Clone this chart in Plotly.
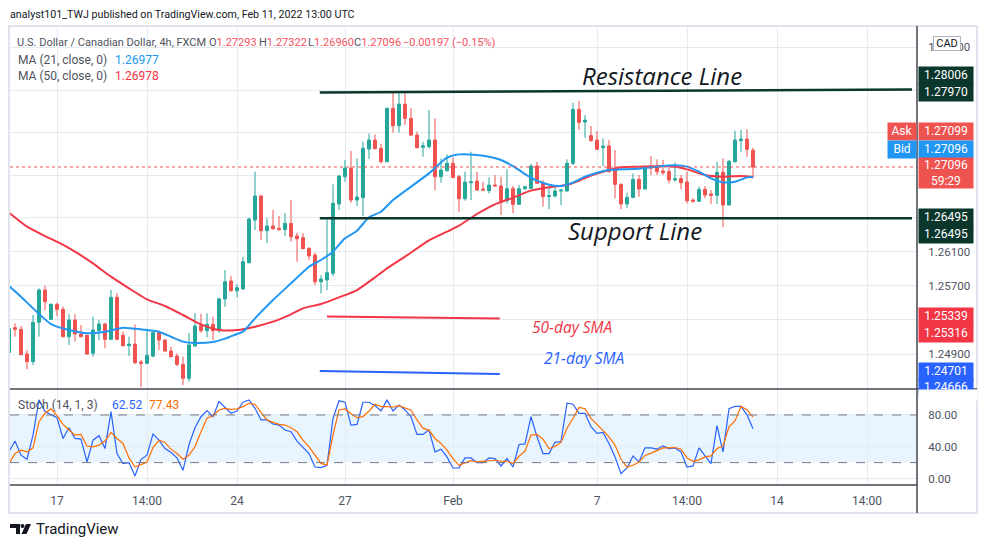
import plotly.graph_objects as go

# ---------------- data ----------------
candle_idx = list(range(-1, 124))
opens = [1.24916,1.25209,1.25190,1.24900,1.24810,1.25272,1.25651,1.25307,1.25483,1.25424,
 1.25103,1.25299,1.25135,1.25119,1.24908,1.25174,1.25252,1.25072,1.25565,1.25119,
 1.24998,1.25017,1.24806,1.24790,1.24876,1.25150,1.25064,1.24935,1.24876,1.24778,
 1.24614,1.24994,1.25232,1.25174,1.25248,1.25174,1.25546,1.25757,1.25643,1.25663,
 1.25972,1.26473,1.26755,1.26348,1.26403,1.26375,1.26360,1.26434,1.26285,1.26266,
 1.26141,1.26062,1.25749,1.25769,1.25847,1.26661,1.26982,1.27084,1.26708,1.26736,
 1.27307,1.27413,1.27315,1.27158,1.27785,1.27581,1.27835,1.27667,1.27471,1.27327,
 1.27334,1.27413,1.26982,1.27053,1.27139,1.26982,1.26724,1.26912,1.26931,1.26837,
 1.26818,1.26884,1.26873,1.26700,1.26841,1.26657,1.26841,1.26845,1.27107,1.26912,
 1.26747,1.26755,1.26814,1.26814,1.27139,1.27773,1.27624,1.27464,1.27413,1.27323,
 1.27342,1.27060,1.26892,1.26661,1.26739,1.26951,1.26837,1.27100,1.27092,1.27049,
 1.27041,1.26943,1.26959,1.26920,1.26708,1.26693,1.26833,1.26779,1.26763,1.27033,
 1.26650,1.27158,1.27405,1.27424,1.27293]
highs = [1.25221,1.25260,1.25229,1.24947,1.25358,1.25671,1.25702,1.25495,1.25503,1.25456,
 1.25366,1.25366,1.25240,1.25127,1.25338,1.25299,1.25268,1.25651,1.25612,1.25162,
 1.25103,1.25248,1.24829,1.25197,1.25162,1.25174,1.25072,1.24986,1.24908,1.24869,
 1.25150,1.25378,1.25370,1.25378,1.25338,1.25565,1.25886,1.25816,1.25722,1.26043,
 1.26501,1.27041,1.26767,1.26493,1.26591,1.26520,1.26552,1.26708,1.26325,1.26317,
 1.26152,1.26090,1.25828,1.26481,1.26892,1.27002,1.27178,1.27284,1.27197,1.27393,
 1.27491,1.27479,1.27366,1.27792,1.27980,1.27961,1.27961,1.27785,1.27511,1.27393,
 1.27765,1.27667,1.27197,1.27244,1.27209,1.27002,1.27041,1.27276,1.27041,1.26923,
 1.26974,1.27002,1.26982,1.27068,1.26873,1.26884,1.26873,1.27131,1.27158,1.26943,
 1.26865,1.26873,1.26833,1.27186,1.27851,1.27875,1.27706,1.27577,1.27518,1.27432,
 1.27413,1.27295,1.26904,1.26794,1.27021,1.27002,1.27107,1.27225,1.27186,1.27178,
 1.27107,1.27150,1.27002,1.27041,1.26728,1.26865,1.26873,1.26825,1.27158,1.27197,
 1.27178,1.27522,1.27530,1.27538,1.27322]
lows = [1.24908,1.25103,1.24884,1.24720,1.24771,1.25103,1.25417,1.25299,1.25346,1.25096,
 1.25006,1.25045,1.25096,1.24888,1.24869,1.25064,1.24966,1.25064,1.25064,1.24986,
 1.24876,1.24782,1.24509,1.24782,1.24861,1.24947,1.24927,1.24861,1.24759,1.24536,
 1.24575,1.24986,1.25150,1.25096,1.25064,1.25150,1.25456,1.25632,1.25565,1.25655,
 1.25964,1.26356,1.26238,1.26199,1.26356,1.26348,1.26286,1.26219,1.25984,1.26129,
 1.26004,1.25710,1.25612,1.25651,1.25816,1.26591,1.26923,1.26677,1.26638,1.26520,
 1.27190,1.27303,1.27139,1.27150,1.27499,1.27499,1.27589,1.27460,1.27315,1.27217,
 1.27315,1.26825,1.26912,1.27041,1.26963,1.26571,1.26700,1.26708,1.26818,1.26818,
 1.26786,1.26870,1.26532,1.26669,1.26552,1.26650,1.26825,1.26833,1.26896,1.26630,
 1.26599,1.26739,1.26646,1.26806,1.27119,1.27530,1.27440,1.27393,1.27295,1.27107,
 1.27029,1.26728,1.26599,1.26610,1.26728,1.26747,1.26833,1.27002,1.27002,1.27002,
 1.26904,1.26923,1.26833,1.26669,1.26677,1.26689,1.26728,1.26661,1.26661,1.26387,
 1.26646,1.27147,1.27276,1.27217,1.26960]
closes = [1.25201,1.25190,1.24892,1.24810,1.25272,1.25651,1.25514,1.25483,1.25424,1.25103,
 1.25299,1.25135,1.25103,1.24900,1.25182,1.25252,1.25072,1.25565,1.25072,1.24998,
 1.25017,1.24798,1.24790,1.24884,1.25150,1.25064,1.24935,1.24869,1.24778,1.24614,
 1.25006,1.25229,1.25174,1.25248,1.25174,1.25546,1.25749,1.25643,1.25679,1.25984,
 1.26485,1.26755,1.26348,1.26403,1.26372,1.26360,1.26434,1.26277,1.26254,1.26137,
 1.26051,1.25749,1.25780,1.25855,1.26669,1.26990,1.27084,1.26708,1.26743,1.27315,
 1.27413,1.27311,1.27158,1.27785,1.27581,1.27835,1.27667,1.27471,1.27323,1.27346,
 1.27413,1.26982,1.27060,1.27139,1.26974,1.26724,1.26919,1.26923,1.26825,1.26825,
 1.26884,1.26873,1.26700,1.26841,1.26657,1.26841,1.26865,1.27107,1.26904,1.26747,
 1.26759,1.26814,1.26825,1.27139,1.27773,1.27620,1.27647,1.27405,1.27303,1.27342,
 1.27041,1.26892,1.26661,1.26739,1.26951,1.26837,1.27080,1.27084,1.27041,1.27029,
 1.26943,1.26959,1.26912,1.26700,1.26693,1.26833,1.26767,1.26763,1.27033,1.26650,
 1.27162,1.27413,1.27424,1.27303,1.27096]

ma21_idx = [-1,1,3,6,9,12,15,18,20,22,24,26,28,30,33,35,37,38,40,43,46,49,51,53,55,57,59,61,63,66,
            69,72,74,77,79,81,83,85,87,89,91,93,95,97,99,101,104,107,110,112,114,116,118,120,122,123]
ma21_val = [1.25699,1.25573,1.25436,1.25252,1.25182,1.25143,1.25162,1.25209,1.25197,1.25182,
            1.25162,1.25103,1.25045,1.25029,1.25041,1.25080,1.25135,1.25162,1.25319,1.25534,
            1.25730,1.25925,1.26004,1.26102,1.26258,1.26348,1.26505,1.26571,1.26708,1.26865,
            1.27021,1.27205,1.27244,1.27237,1.27217,1.27178,1.27107,1.27013,1.26935,1.26888,
            1.26873,1.26912,1.26982,1.27029,1.27060,1.27068,1.27076,1.27100,1.27115,1.27100,
            1.27041,1.26962,1.26916,1.26923,1.26974,1.26977]
ma50_idx = [-1,2,5,7,10,13,16,19,22,25,28,31,34,37,40,43,46,48,51,54,57,60,62,65,69,72,74,77,80,83,
            86,89,92,94,96,98,101,104,109,112,115,118,121,123]
ma50_val = [1.26559,1.26395,1.26285,1.26219,1.26102,1.25964,1.25808,1.25671,1.25542,1.25464,
            1.25358,1.25248,1.25182,1.25182,1.25221,1.25280,1.25366,1.25436,1.25487,1.25565,
            1.25651,1.25800,1.25906,1.26043,1.26235,1.26336,1.26407,1.26544,1.26657,1.26736,
            1.26818,1.26857,1.26884,1.26935,1.26994,1.27041,1.27092,1.27100,1.27107,1.27068,
            1.27002,1.26982,1.26990,1.26978]

stoch_k = [33.8,47.3,29.3,24.2,54.6,99,84.2,80,76.6,50.4,63.9,50.4,49.6,20.8,48.3,53.8,37.7,84.2,31.4,18.7,
 20,3.1,24.2,29.3,55.9,48.3,37.7,32.7,25.9,10.3,42.8,63.9,77.8,85.5,77.8,96.9,89.3,82.1,85,96,
 99,88.4,73.7,73.7,68.6,67.3,61,58.9,47.1,39.9,31.4,14.5,13.8,16.6,75.8,97.8,96,67.3,68.2,96,
 96,91.8,85,99,85,92.6,86.3,77.8,55.5,55.5,61,33.5,36.9,27.2,13.2,13.2,25.9,25.9,20,20,
 25.9,25.1,15.8,25.1,14.5,42.8,43.6,77.8,52.5,31.4,31.4,45.6,46.5,94.8,93.5,82.1,82.1,65.2,56.8,58.1,
 44.1,27.2,6.1,13.2,28.4,20.8,38.6,38.6,36.9,41.1,37.7,38.6,33.5,14.5,15.8,38.6,28.4,18.7,66.5,33.5,
 87.9,90.8,90.8,80.2,62.52]
stoch_d = [18.7,31.4,35.6,33.5,38.6,71.5,82.1,87.6,79.1,68.2,61,54.6,55.5,40.7,39.9,42,47.1,58,50.4,44.1,
 25.9,14.5,17.5,20.8,39,48.3,45.4,37,31.4,24.2,29.3,39.9,58.9,75.8,79.1,86.3,88.4,87.1,87.6,90.5,
 94.7,93.5,83.3,73.7,70.7,68.2,67.3,64,58.9,48.3,39.9,29.3,19,17,54.6,86.3,87.6,81.6,76.6,77.8,
 85,93.5,90.5,90.5,89.7,91.8,88.4,85.9,73.7,63.4,60.6,50.4,44.1,35.6,25.1,16.6,19.6,22.5,20.8,21.7,
 21.7,23,21.7,21.7,18.7,28,34.4,54.6,55.5,49.6,37.7,40.2,45.4,63.4,75.8,89.6,87.9,75.8,68.2,61,
 52.5,42,24.2,14.5,16.6,20.8,29,32,35.6,38.6,38.6,39,36.9,25.9,21.7,23.4,27.2,28.4,37.7,40.7,
 65.2,72.4,90.8,86.6,77.43]

tick_idx = [7, 22, 37, 55, 73, 97, 112, 127, 142]
tick_text = ["17", "14:00", "24", "27", "Feb", "7", "14:00", "14", "14:00"]
price_ticks = [1.245, 1.249, 1.253, 1.257, 1.261, 1.265, 1.270, 1.275, 1.280, 1.285]
price_tick_text = ["", "1.24900", "", "1.25700", "1.26100", "", "", "", "", "1.28500"]
stoch_ticks = [0, 40, 80]
stoch_tick_text = ["0.00", "40.00", "80.00"]

resistance_idx = [50.8, 149.5]
resistance_price = [1.27970, 1.28006]
support_idx = [50.8, 149.5]
support_price = [1.26495, 1.26495]
sma50_mark_idx = [52.0, 80.8]
sma50_mark_price = [1.25339, 1.25316]
sma21_mark_idx = [50.8, 80.8]
sma21_mark_price = [1.24701, 1.24666]
last_price = 1.27096

# ---------------- geometry helpers (page pixel coords) ----------------
OFF = 8                      # default page body margin
W, H = 987 - OFF, 548 - OFF  # figure size
PL, PR, PT, PB = 10, 917, 27, 485
SEP = 389
def px(x):
    return (x - PL) / (PR - PL)
def py(y):
    return (PB - y) / (PB - PT)

FONT = "Roboto, 'Liberation Sans', sans-serif"
UP, DN = "#26a69a", "#ef5350"
DARK = "#0b362c"
GRID = "#e4ebf1"

fig = go.Figure()
fig.add_trace(go.Candlestick(
    x=candle_idx, open=opens, high=highs, low=lows, close=closes,
    increasing=dict(line=dict(color=UP, width=1), fillcolor=UP),
    decreasing=dict(line=dict(color=DN, width=1), fillcolor=DN),
    xaxis="x", yaxis="y", hoverinfo="skip"))
fig.add_trace(go.Scatter(x=ma50_idx, y=ma50_val, mode="lines",
    line=dict(color="#f23645", width=2, shape="spline", smoothing=0.6), xaxis="x", yaxis="y"))
fig.add_trace(go.Scatter(x=ma21_idx, y=ma21_val, mode="lines",
    line=dict(color="#2196f3", width=2, shape="spline", smoothing=0.6), xaxis="x", yaxis="y"))
fig.add_trace(go.Scatter(x=resistance_idx, y=resistance_price, mode="lines",
    line=dict(color=DARK, width=2.5), xaxis="x", yaxis="y"))
fig.add_trace(go.Scatter(x=support_idx, y=support_price, mode="lines",
    line=dict(color=DARK, width=2.5), xaxis="x", yaxis="y"))
fig.add_trace(go.Scatter(x=sma50_mark_idx, y=sma50_mark_price, mode="lines",
    line=dict(color="#f23645", width=2), xaxis="x", yaxis="y"))
fig.add_trace(go.Scatter(x=sma21_mark_idx, y=sma21_mark_price, mode="lines",
    line=dict(color="#2962ff", width=2), xaxis="x", yaxis="y"))
fig.add_trace(go.Scatter(x=candle_idx, y=stoch_k, mode="lines",
    line=dict(color="#2962ff", width=1.2), xaxis="x2", yaxis="y2"))
fig.add_trace(go.Scatter(x=candle_idx, y=stoch_d, mode="lines",
    line=dict(color="#ff6d00", width=1.2), xaxis="x2", yaxis="y2"))

split = (PB - SEP) / (PB - PT)
xr = [(PL - 15) / 6, (PR - 15) / 6]

shapes = []
shapes.append(dict(type="rect", xref="paper", yref="y2", x0=0, x1=1, y0=20, y1=80,
                   fillcolor="rgba(33,150,243,0.1)", line=dict(width=0), layer="below"))
for lv in (20, 80):
    shapes.append(dict(type="line", xref="paper", yref="y2", x0=0, x1=1, y0=lv, y1=lv,
                       line=dict(color="#787b86", width=1, dash="dash")))
shapes.append(dict(type="line", xref="paper", yref="y", x0=0, x1=1, y0=last_price, y1=last_price,
                   line=dict(color="#ef5350", width=1, dash="dot")))
shapes.append(dict(type="rect", xref="paper", yref="paper", x0=px(9), x1=px(977), y0=py(26), y1=py(513),
                   line=dict(color="#e0e3eb", width=2)))
SEPC = "#434651"
shapes.append(dict(type="line", xref="paper", yref="paper", x0=px(10), x1=px(977), y0=py(SEP), y1=py(SEP),
                   line=dict(color=SEPC, width=1.5)))
shapes.append(dict(type="line", xref="paper", yref="paper", x0=px(10), x1=px(917), y0=py(485), y1=py(485),
                   line=dict(color=SEPC, width=1.5)))
shapes.append(dict(type="line", xref="paper", yref="paper", x0=px(917), x1=px(917), y0=py(26), y1=py(513),
                   line=dict(color=SEPC, width=1.5)))

def path(pts):
    return "M " + " L ".join(f"{px(a):.5f},{py(b):.5f}" for a, b in pts) + " Z"
shapes.append(dict(type="path", xref="paper", yref="paper",
                   path=path([(10, 524), (20, 524), (20, 534), (16, 534), (16, 528), (10, 528)]),
                   fillcolor="#131722", line=dict(width=0)))
shapes.append(dict(type="circle", xref="paper", yref="paper", x0=px(20.5), x1=px(24.5), y0=py(524), y1=py(528),
                   fillcolor="#131722", line=dict(width=0)))
shapes.append(dict(type="path", xref="paper", yref="paper",
                   path=path([(26, 524), (31, 524), (26.5, 534), (21.5, 534)]),
                   fillcolor="#131722", line=dict(width=0)))

ann = []
def text(x, y, s, size=12, color="#131722", anchor="left", italic=False, family=FONT):
    ann.append(dict(xref="paper", yref="paper", x=px(x), y=py(y), text=s, showarrow=False,
                    xanchor=anchor, yanchor="middle",
                    font=dict(family=family, size=size, color=color, style="italic" if italic else "normal")))

GRAY = "#50535e"
RV = "#f7525f"
text(8, 15, "analyst101_TWJ published on TradingView.com, Feb 11, 2022 13:00 UTC", 10.7, "#131722")
text(15, 42.5, "U.S. Dollar / Canadian Dollar, 4h, FXCM", 11, GRAY)
text(207, 42.5, f"O<span style='color:{RV}'>1.27293</span>", 11, GRAY)
text(257, 42.5, f"H<span style='color:{RV}'>1.27322</span>", 11, GRAY)
text(306, 42.5, f"L<span style='color:{RV}'>1.26960</span>", 11, GRAY)
text(352, 42.5, f"C<span style='color:{RV}'>1.27096</span>", 11, GRAY)
text(401, 42.5, "\u22120.00197 (\u22120.15%)", 11, RV)
text(16, 59.5, "MA (21, close, 0)", 12, GRAY)
text(113, 59.5, "1.26977", 12, "#2196f3")
text(16, 76, "MA (50, close, 0)", 12, GRAY)
text(113, 76, "1.26978", 12, "#f23645")
text(16, 405, "Stoch (14, 1, 3)", 12, GRAY)
text(110, 405, "62.52", 12, "#2962ff")
text(147, 405, "77.43", 12, "#ff6d00")

text(662, 76, "Resistance Line", 24, "#131722", "center", True, "'Open Sans', sans-serif")
text(635, 230, "Support Line", 24, "#131722", "center", True, "'Open Sans', sans-serif")
text(572, 327, "50-day SMA", 15.5, "#f23645", "center", True, "'Open Sans', sans-serif")
text(584, 358, "21-day SMA", 15.5, "#2962ff", "center", True, "'Open Sans', sans-serif")
text(34, 529, "TradingView", 15, "#131722")

def box(yc, s, bg, x0=918, w=54, h=16.5, fc="white", size=12):
    ann.append(dict(xref="paper", yref="paper", x=px(x0), y=py(yc), text=s, showarrow=False,
                    xanchor="left", yanchor="middle", width=w, height=h, bgcolor=bg, borderpad=0,
                    align="center", font=dict(family=FONT, size=size, color=fc)))

box(75, "1.28006", DARK); box(92, "1.27970", DARK)
box(131.7, "1.27099", "#ef5350"); box(149.5, "1.27096", "#2196f3")
box(173, "1.27096<br>59:29", "#ef5350", h=30)
box(217.7, "1.26495", DARK); box(234, "1.26495", DARK)
box(316, "1.25339", "#f23645"); box(333, "1.25316", "#f23645")
box(371, "1.24701", "#2962ff"); box(387.5, "1.24666", "#2962ff")
box(395, "", "white", x0=918, w=58, h=10)
box(131.7, "Ask", "#ef5350", x0=887, w=28)
box(149.5, "Bid", "#2196f3", x0=887, w=28)
ann.append(dict(xref="paper", yref="paper", x=px(946.5), y=py(43.5), text="CAD", showarrow=False,
                xanchor="center", yanchor="middle", width=26, height=13, bgcolor="white",
                bordercolor="#b2b5be", borderwidth=1, borderpad=0,
                font=dict(family=FONT, size=11, color="#131722")))

fig.update_layout(
    width=W, height=H, autosize=False,
    margin=dict(l=PL - OFF, r=987 - PR, t=PT - OFF, b=548 - PB),
    paper_bgcolor="white", plot_bgcolor="white",
    showlegend=False, hovermode=False,
    font=dict(family=FONT, size=12, color="#131722"),
    xaxis=dict(domain=[0, 1], anchor="y", range=xr, tickvals=tick_idx, ticktext=tick_text,
               showticklabels=False, showgrid=True, gridcolor=GRID, zeroline=False,
               rangeslider=dict(visible=False), showline=False, ticks=""),
    xaxis2=dict(domain=[0, 1], anchor="y2", range=xr, matches="x", tickvals=tick_idx, ticktext=tick_text,
                showticklabels=True, showgrid=True, gridcolor=GRID, zeroline=False, showline=False,
                ticks="outside", ticklen=5, tickcolor="rgba(0,0,0,0)",
                tickfont=dict(family=FONT, size=12, color="#4c525e")),
    yaxis=dict(domain=[split, 1], anchor="x", range=[1.244890, 1.287398], side="right",
               tickvals=price_ticks, ticktext=price_tick_text, showgrid=True, gridcolor=GRID,
               zeroline=False, showline=False, ticks="outside", ticklen=8, tickcolor="rgba(0,0,0,0)",
               tickfont=dict(family=FONT, size=11.5, color="#4c525e")),
    yaxis2=dict(domain=[0, split], anchor="x2", range=[-8.2, 112.7], side="right",
                tickvals=stoch_ticks, ticktext=stoch_tick_text, showgrid=True, gridcolor=GRID,
                zeroline=False, showline=False, ticks="outside", ticklen=8, tickcolor="rgba(0,0,0,0)",
                tickfont=dict(family=FONT, size=11.5, color="#4c525e")),
    shapes=shapes, annotations=ann,
)

fig.write_html("out.html")
